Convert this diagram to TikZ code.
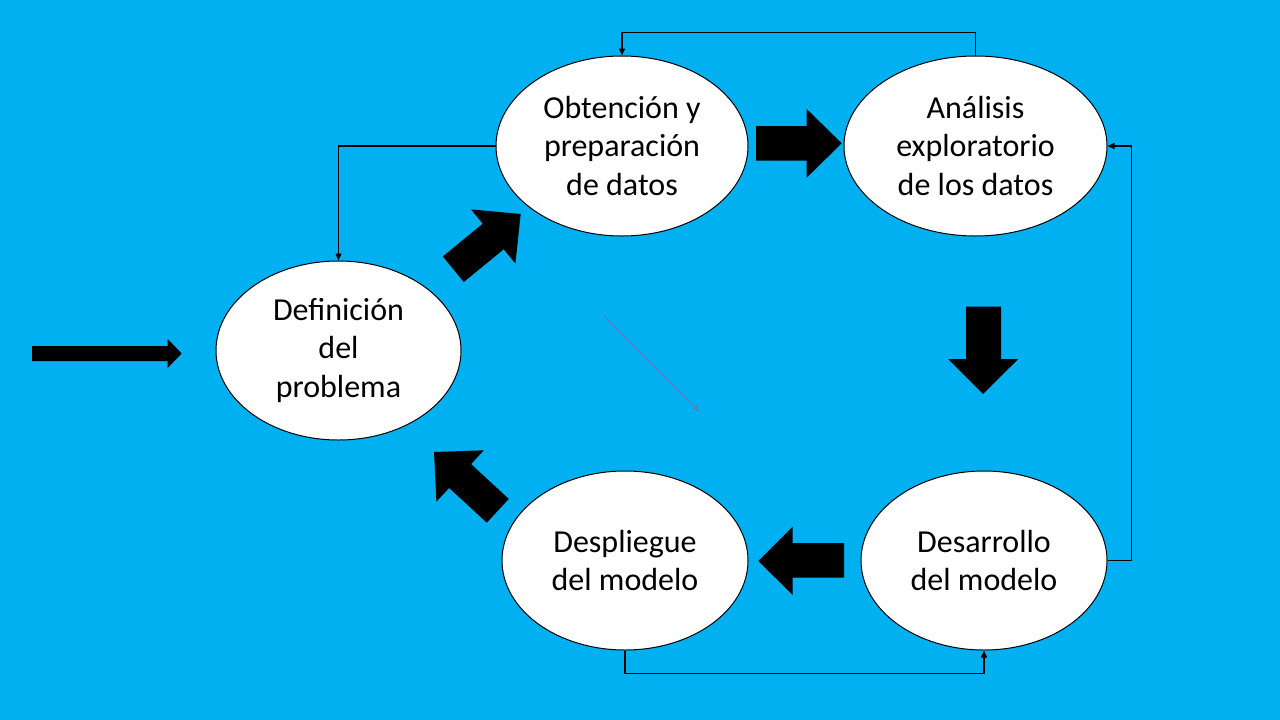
\documentclass[tikz,border=0pt]{standalone}
\usepackage{fontspec}
\setmainfont{Carlito}
\usetikzlibrary{shapes.geometric,arrows.meta}
\definecolor{bgblue}{RGB}{0,176,240}
\definecolor{thinblue}{RGB}{84,130,190}
\tikzset{
  stage/.style={ellipse, draw=black, line width=1pt, fill=white, inner sep=0pt,
    align=center, font=\fontsize{32}{38.4}\selectfont, text=black},
  conn/.style={draw=black, line width=1.2pt, -{Triangle[length=7pt,width=6pt]}},
  bigarrow/.style={fill=black, draw=none}
}
\begin{document}
\begin{tikzpicture}[x=1pt,y=-1pt]
\useasboundingbox (0,0) rectangle (1280,720);
\fill[bgblue] (0,0) rectangle (1280,720);

% stages
\node[stage, minimum width=252pt, minimum height=180pt] (ob) at (622,146) {Obtención y\\preparación\\de datos};
\node[stage, minimum width=263pt, minimum height=180pt] (an) at (975.5,146) {Análisis\\exploratorio\\de los datos};
\node[stage, minimum width=245pt, minimum height=179pt] (def) at (338.5,350.5) {Definición\\del\\problema};
\node[stage, minimum width=246pt, minimum height=179pt] (dp) at (625,560.5) {Despliegue\\del modelo};
\node[stage, minimum width=246pt, minimum height=179pt] (dr) at (984,560.5) {Desarrollo\\del modelo};

% thin feedback connectors
\draw[conn] (an.north) -- ++(0,-23) -| (ob.north);
\draw[conn] (ob.west) -| (def.north);
\draw[conn] (dr.east) -- ++(24,0) |- (an.east);
\draw[conn] (dp.south) -- ++(0,23) -| (dr.south);

% faint diagonal arrow
\coordinate (d1) at (604,316);
\coordinate (d2) at (700,412);
\draw[thinblue, line width=0.8pt, -{Triangle[length=7pt,width=5pt]}] (d1) -- (d2);

% block arrows
% entry arrow
\fill[bigarrow] (32,346) -- (167.7,346) -- (167.7,339) -- (181.7,353.5) -- (167.7,368) -- (167.7,361) -- (32,361) -- cycle;
% Obtencion -> Analisis
\fill[bigarrow] (756,126) -- (806.7,126) -- (806.7,109) -- (841.7,143.3) -- (806.7,177.7) -- (806.7,160.7) -- (756,160.7) -- cycle;
% Analisis -> Desarrollo (down)
\fill[bigarrow] (966,306.7) -- (1001,306.7) -- (1001,359) -- (1018.3,359) -- (983,394) -- (948,359) -- (966,359) -- cycle;
% Desarrollo -> Despliegue (left)
\fill[bigarrow] (844,543) -- (792.7,543) -- (792.7,526.7) -- (758.3,561) -- (792.7,595) -- (792.7,577.7) -- (844,577.7) -- cycle;
% Despliegue -> Definicion (up-left)
\fill[bigarrow] (508.8,498.9) -- (471.1,464.1) -- (483.8,450.3) -- (434,452) -- (436.4,501.7) -- (449.1,487.9) -- (486.8,522.7) -- cycle;
% Definicion -> Obtencion (up-right)
\fill[bigarrow] (442.8,256.4) -- (482.7,223.7) -- (471.0,209.4) -- (520.7,214) -- (515.4,263.6) -- (503.7,249.3) -- (463.8,282.0) -- cycle;
\end{tikzpicture}
\end{document}
